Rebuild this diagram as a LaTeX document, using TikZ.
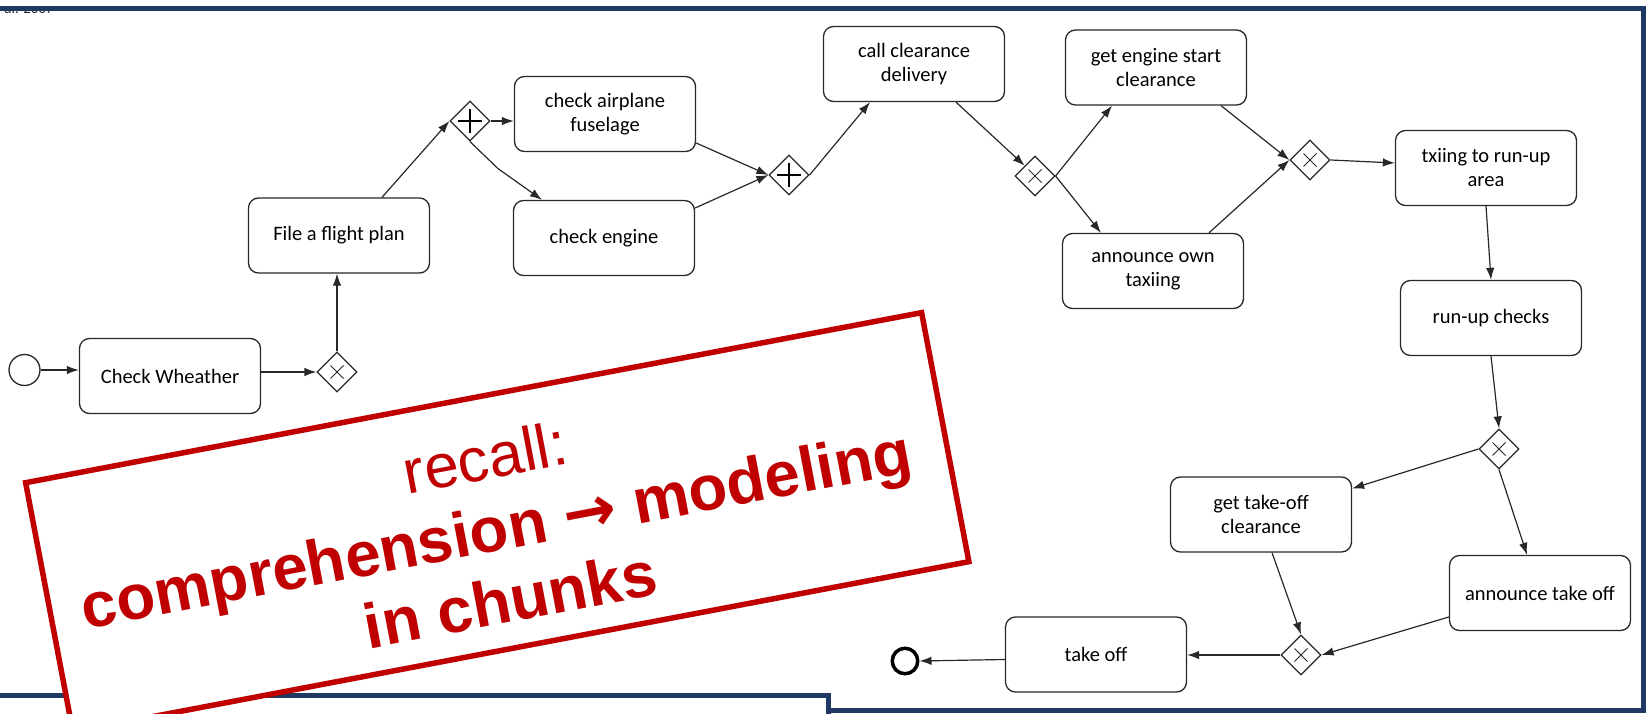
\documentclass[tikz,border=0pt]{standalone}
\usepackage{fontspec}
\setmainfont{Carlito}
\newfontfamily\arialfont{Liberation Sans}
\newfontfamily\arrowfont{DejaVu Sans}
\usetikzlibrary{shapes.geometric,arrows.meta,calc}
\definecolor{navy}{RGB}{31,56,100}
\definecolor{slidered}{RGB}{192,0,0}
\definecolor{ink}{RGB}{40,40,40}
\begin{document}
\begin{tikzpicture}[x=1pt,y=-1pt,
  task/.style={draw=ink, line width=1.3pt, rounded corners=10pt, fill=white,
    minimum width=181pt, minimum height=75pt, align=center, inner sep=2pt,
    font=\fontsize{20.5}{24}\selectfont, text=black},
  gwshape/.style={diamond, draw=ink, line width=1.2pt, fill=white, aspect=1,
    minimum width=40pt, minimum height=40pt, inner sep=0pt},
  xgw/.style={gwshape, path picture={
    \draw[ink, line width=1pt]
      ([shift={(-6.5pt,-6.5pt)}]path picture bounding box.center) -- ([shift={(6.5pt,6.5pt)}]path picture bounding box.center)
      ([shift={(-6.5pt,6.5pt)}]path picture bounding box.center) -- ([shift={(6.5pt,-6.5pt)}]path picture bounding box.center);}},
  pgw/.style={gwshape, path picture={
    \draw[black, line width=1.8pt]
      ([xshift=-12pt]path picture bounding box.center) -- ([xshift=12pt]path picture bounding box.center)
      ([yshift=-12pt]path picture bounding box.center) -- ([yshift=12pt]path picture bounding box.center);}},
  flow/.style={draw=ink, line width=1.2pt, -{Latex[length=12pt,width=8.5pt]}},
  redtext/.style={rotate=10.75, anchor=base, inner sep=0pt, text=slidered},
]
\useasboundingbox (0,0) rectangle (1649,714);

% clipped reference text at the top left
\begin{scope}
  \clip (0,10) rectangle (120,30);
  \node[anchor=base east, inner sep=0pt, text=ink, font=\fontsize{15}{15}\selectfont] (ref) at (54,13.5) {al. 2007};
\end{scope}

% slide frames
\draw[navy, line width=5pt] (-20,8.5) rectangle (1643,710);
\draw[navy, line width=5pt, fill=white] (-20,695) rectangle (828,760);

% events
\node[circle, draw=ink, line width=1.3pt, minimum size=31pt, inner sep=0pt] (start) at (24.5,370) {};
\node[circle, draw=black, line width=3.5pt, minimum size=25.5pt, inner sep=0pt] (endc) at (905,661) {};

% tasks
\node[task] (cw)  at (170,376)   {Check Wheather};
\node[task] (fp)  at (339,235.5) {File a flight plan};
\node[task] (fus) at (605,114)   {check airplane\\fuselage};
\node[task] (ce)  at (604,238)   {check engine};
\node[task] (cd)  at (914,64)    {call clearance\\delivery};
\node[task] (ges) at (1156,67.5) {get engine start\\clearance};
\node[task] (ann) at (1153,271)  {announce own\\taxiing};
\node[task] (txi) at (1486,168)  {txiing to run-up\\area};
\node[task] (run) at (1491,318)  {run-up checks};
\node[task] (gto) at (1261,514.5){get take-off\\clearance};
\node[task] (ato) at (1540,593)  {announce take off};
\node[task] (to)  at (1096,654.5){take off};

% gateways
\node[xgw] (gw1) at (337,372) {};
\node[pgw] (pg1) at (470,121) {};
\node[pgw] (pg2) at (789,175) {};
\node[xgw] (gw3) at (1035,176) {};
\node[xgw] (gw4) at (1310,160) {};
\node[xgw] (gw5) at (1499,449) {};
\node[xgw] (gw6) at (1301,655) {};

% flows
\draw[flow] (start) -- (start -| cw.west);
\draw[flow] (cw.east |- gw1) -- (gw1.west);
\draw[flow] (gw1.north) -- (gw1.north |- fp.south);
\draw[flow] ($(fp.north)+(43,0)$) -- (pg1.west);
\draw[flow] (pg1.east) -- (pg1.east -| fus.west);
\draw[flow] (pg1.south) -- ++(28,27) -- ($(ce.north)+(-62,0)$);
\draw[flow] ($(fus.east)+(0,29)$) -- (pg2.west);
\draw[flow] ($(ce.east)+(0,-30)$) -- (pg2.west);
\draw[flow] (pg2.east) -- ($(cd.south)+(-44,0)$);
\draw[flow] ($(cd.south)+(42,0)$) -- (gw3.north west);
\draw[flow] (gw3.east) -- ($(ges.south)+(-44,0)$);
\draw[flow] (gw3.east) -- ($(ann.north)+(-52,0)$);
\draw[flow] ($(ges.south)+(65,0)$) -- (gw4.west);
\draw[flow] ($(ann.north)+(56,0)$) -- (gw4.west);
\draw[flow] (gw4.east) -- ($(txi.west)+(0,-5)$);
\draw[flow] (txi.south) -- (run.north);
\draw[flow] (run.south) -- (gw5.north);
\draw[flow] (gw5.west) -- ($(gto.east)+(0,-26)$);
\draw[flow] (gw5.south) -- ($(ato.north)+(-13,0)$);
\draw[flow] ($(gto.south)+(11,0)$) -- (gw6.north);
\draw[flow] ($(ato.west)+(0,24)$) -- (gw6.east);
\draw[flow] (gw6.west) -- (gw6.west -| to.east);
\draw[flow] ($(to.west)+(0,5)$) -- (endc.east);

% red callout
\node[draw=slidered, line width=5.5pt, fill=white, rotate=10.75, inner sep=0pt,
      minimum width=912pt, minimum height=253.5pt] (callout) at (497.25,522.2) {};
\node[redtext, font=\arialfont\fontsize{62}{62}\selectfont] (t1) at (489,479) {recall:};
\node[redtext, font=\arialfont\bfseries\fontsize{63.5}{63.5}\selectfont] (t2) at (500,550.5) {comprehension {\arrowfont\bfseries →} modeling};
\node[redtext, font=\arialfont\bfseries\fontsize{63.5}{63.5}\selectfont] (t3) at (514.5,621.5) {in chunks};
\end{tikzpicture}
\end{document}
